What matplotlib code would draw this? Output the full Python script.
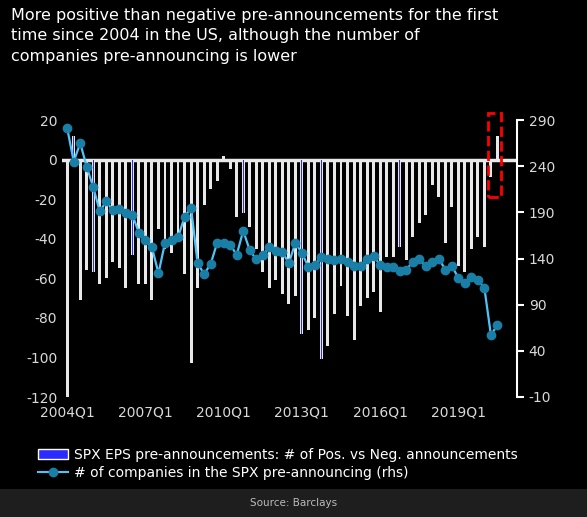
import matplotlib
matplotlib.use("Agg")
import matplotlib.pyplot as plt
from matplotlib.patches import Rectangle, Patch
from matplotlib.lines import Line2D
import numpy as np

plt.rcParams["axes.unicode_minus"] = False

quarters = [f"{2004 + i//4}Q{i%4+1}" for i in range(67)]
bars = [-120, 12, -71, -56, -57, -63, -60, -52, -55, -65, -48, -63, -63, -71, -35, -45,
        -47, -38, -58, -103, -65, -23, -15, -11, 2, -5, -29, -27, -34, -45, -57, -65,
        -61, -68, -73, -69, -88, -86, -80, -101, -94, -78, -64, -79, -91, -74, -70, -67,
        -77, -49, -49, -44, -51, -39, -32, -28, -13, -19, -42, -24, -54, -57, -45, -39,
        -44, -9, 12]
blue_idx = [1, 4, 10, 13, 27, 36, 39, 51, 65]
line = [281, 245, 265, 239, 217, 191, 202, 192, 194, 189, 187, 168, 160, 152, 124, 157,
        160, 163, 185, 195, 135, 123, 134, 157, 157, 155, 144, 170, 149, 139, 144, 152,
        148, 147, 135, 157, 146, 131, 133, 142, 139, 138, 139, 136, 132, 132, 140, 143,
        133, 131, 131, 127, 128, 136, 139, 132, 136, 140, 128, 132, 119, 114, 120, 117,
        108, 57, 68]
tick_labels = ["2004Q1", "2007Q1", "2010Q1", "2013Q1", "2016Q1", "2019Q1"]

fig = plt.figure(figsize=(5.87, 5.17), dpi=100, facecolor="black")
ax = fig.add_axes([62/587, 1-397/517, (517-62)/587, 277/517])
ax.set_facecolor("black")
x = np.arange(len(bars))
ax.bar(x, bars, width=0.45, color="#e8e8e8", linewidth=0, zorder=2)
bx = [i for i in blue_idx]
ax.bar(bx, [bars[i] for i in bx], width=0.12, color="#2b2bff", linewidth=0, zorder=2.5)
ax.axhline(0, color="#e8e8e8", lw=2.5, zorder=2)
ax.set_ylim(-120, 20)
ax.set_xlim(-0.8, 69)
ax.set_yticks(range(-120, 21, 20))
ax.set_xticks([quarters.index(t) for t in tick_labels])
ax.set_xticklabels(tick_labels)
for s in ["top", "right", "left", "bottom"]:
    ax.spines[s].set_visible(False)
ax.tick_params(colors="#d9d9d9", labelsize=10, length=0)
ax.tick_params(axis="x", pad=6)

ax2 = ax.twinx()
ax2.plot(x, line, color="#4fc3f7", lw=1.6, marker="o", ms=6,
         markerfacecolor="#1a7fa6", markeredgecolor="#1a7fa6", zorder=3)
ax2.set_ylim(-10, 290)
ax2.set_yticks(range(-10, 291, 50))
for s in ["top", "left", "bottom"]:
    ax2.spines[s].set_visible(False)
ax2.spines["right"].set_color("white")
ax2.spines["right"].set_linewidth(1.5)
ax2.tick_params(colors="#d9d9d9", labelsize=10, length=5, width=1.5)
ax2.tick_params(axis="y", color="white")

ax.add_patch(Rectangle((64.6, -18.7), 2.0, 42.2, fill=False, ec="red", ls="--", lw=2,
                       clip_on=False, zorder=5))

fig.text(0.018, 0.985, "More positive than negative pre-announcements for the first\n"
         "time since 2004 in the US, although the number of\n"
         "companies pre-announcing is lower", color="white", fontsize=11.5,
         va="top", ha="left", linespacing=1.45)

h = [Patch(facecolor="#2b2bff", edgecolor="white"),
     Line2D([], [], color="#4fc3f7", marker="o", markerfacecolor="#1a7fa6",
            markeredgecolor="#1a7fa6", ms=6)]
leg = fig.legend(h, ["SPX EPS pre-announcements: # of Pos. vs Neg. announcements",
                     "# of companies in the SPX pre-announcing (rhs)"],
                 loc="upper left", frameon=False, fontsize=10, labelcolor="white",
                 handlelength=2.2, borderaxespad=0, labelspacing=0.3, handletextpad=0.4)
leg.set_bbox_to_anchor((32/587, 1-442/517), transform=fig.transFigure)

fig.patches.append(Rectangle((0, 0), 1, 28/517, transform=fig.transFigure,
                             facecolor="#1e1e1e", zorder=0))
fig.text(0.5, 14/517, "Source: Barclays", color="#bbbbbb", fontsize=7.5, ha="center", va="center")
fig.savefig("out.png", dpi=100, facecolor="black")
